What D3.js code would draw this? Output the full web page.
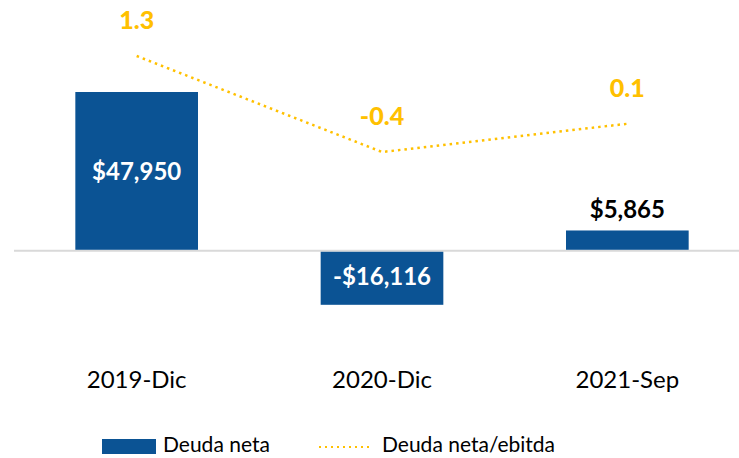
<!DOCTYPE html>
<html>
<head>
<meta charset="utf-8">
<script src="https://cdn.jsdelivr.net/npm/d3@7"></script>
<style>
  body { margin: 0; background: #fff; }
  svg { display: block; font-family: Lato, "Open Sans", sans-serif; }
</style>
</head>
<body>
<div id="chart"></div>
<script>
// data
const categories = ["2019-Dic", "2020-Dic", "2021-Sep"];
const deudaNeta = [47950, -16116, 5865];
const deudaEbitda = [1.3, -0.4, 0.1];
const barLabels = ["$47,950", "-$16,116", "$5,865"];
const ratioLabels = ["1.3", "-0.4", "0.1"];

const width = 739, height = 458;
const blue = "#0B5394", gold = "#FFC000";

const svg = d3.select("#chart").append("svg")
    .attr("width", width)
    .attr("height", height);

const x = d3.scaleBand()
    .domain(categories)
    .range([14, 750])
    .paddingInner(0.5)
    .paddingOuter(0.25);

// primary axis (bars): zero at y=250
const y = d3.scaleLinear()
    .domain([-16116, 47950])
    .range([302.8, 92]);

// secondary axis (ratio)
const y2 = d3.scaleLinear()
    .domain([-0.4, 1.3])
    .range([152, 56]);

// baseline
svg.append("line")
    .attr("x1", 14).attr("x2", width)
    .attr("y1", y(0) + 1).attr("y2", y(0) + 1)
    .attr("stroke", "#d9d9d9")
    .attr("stroke-width", 2);

// bars
svg.selectAll("rect.bar")
  .data(deudaNeta)
  .join("rect")
    .attr("class", "bar")
    .attr("x", (d, i) => x(categories[i]))
    .attr("width", x.bandwidth())
    .attr("y", d => d >= 0 ? y(d) : y(0) + 2)
    .attr("height", d => Math.abs(y(d) - y(0)))
    .attr("fill", blue);

// bar labels
svg.selectAll("text.barlab")
  .data(deudaNeta)
  .join("text")
    .attr("class", "barlab")
    .attr("x", (d, i) => x(categories[i]) + x.bandwidth() / 2)
    .attr("y", (d, i) => {
      if (i === 2) return y(d) - 12;
      return (y(d) + y(0)) / 2 + 9;
    })
    .attr("text-anchor", "middle")
    .attr("font-size", 24)
    .attr("font-weight", "bold")
    .attr("fill", (d, i) => i === 2 ? "#000" : "#fff")
    .text((d, i) => barLabels[i]);

// ratio line
const line = d3.line()
    .x((d, i) => x(categories[i]) + x.bandwidth() / 2)
    .y(d => y2(d));

svg.append("path")
    .datum(deudaEbitda)
    .attr("fill", "none")
    .attr("stroke", gold)
    .attr("stroke-width", 2.5)
    .attr("stroke-dasharray", "2.5,4")
    .attr("d", line);

svg.selectAll("text.ratiolab")
  .data(deudaEbitda)
  .join("text")
    .attr("class", "ratiolab")
    .attr("x", (d, i) => x(categories[i]) + x.bandwidth() / 2)
    .attr("y", d => y2(d) - 27)
    .attr("text-anchor", "middle")
    .attr("font-size", 25)
    .attr("font-weight", 900)
    .attr("fill", gold)
    .text((d, i) => ratioLabels[i]);

// category axis labels
svg.selectAll("text.cat")
  .data(categories)
  .join("text")
    .attr("class", "cat")
    .attr("x", d => x(d) + x.bandwidth() / 2)
    .attr("y", 388)
    .attr("text-anchor", "middle")
    .attr("font-size", 24)
    .attr("fill", "#000")
    .text(d => d);

// legend
const legend = svg.append("g");
legend.append("rect")
    .attr("x", 102).attr("y", 439)
    .attr("width", 54).attr("height", 15)
    .attr("fill", blue);
legend.append("text")
    .attr("x", 163).attr("y", 452)
    .attr("font-size", 21)
    .text("Deuda neta");
legend.append("line")
    .attr("x1", 319).attr("x2", 370)
    .attr("y1", 447).attr("y2", 447)
    .attr("stroke", gold)
    .attr("stroke-width", 2)
    .attr("stroke-dasharray", "2,4");
legend.append("text")
    .attr("x", 382).attr("y", 452)
    .attr("font-size", 21)
    .text("Deuda neta/ebitda");
</script>
</body>
</html>
